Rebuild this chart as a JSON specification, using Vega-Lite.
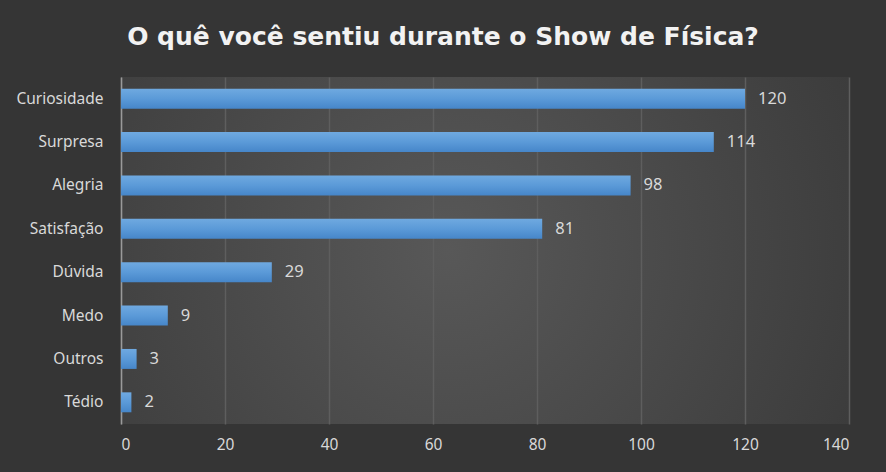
{
  "$schema": "https://vega.github.io/schema/vega-lite/v6.json",
  "width": 728,
  "height": 347,
  "autosize": {"type": "none"},
  "padding": {"left": 121, "top": 77, "right": 37, "bottom": 48},
  "background": "#353535",
  "title": {
    "text": "O quê você sentiu durante o Show de Física?",
    "font": "DejaVu Sans",
    "fontSize": 25,
    "fontWeight": "bold",
    "color": "#f2f2f2",
    "anchor": "middle",
    "dx": -42,
    "offset": 27
  },
  "data": {
    "values": [
      {"sentimento": "Curiosidade", "respostas": 120},
      {"sentimento": "Surpresa", "respostas": 114},
      {"sentimento": "Alegria", "respostas": 98},
      {"sentimento": "Satisfação", "respostas": 81},
      {"sentimento": "Dúvida", "respostas": 29},
      {"sentimento": "Medo", "respostas": 9},
      {"sentimento": "Outros", "respostas": 3},
      {"sentimento": "Tédio", "respostas": 2}
    ]
  },
  "encoding": {
    "y": {
      "field": "sentimento",
      "type": "nominal",
      "sort": null,
      "title": null,
      "scale": {"paddingInner": 0.54, "paddingOuter": 0.27},
      "axis": {
        "ticks": false,
        "domain": true,
        "domainColor": "#9a9a9a",
        "domainWidth": 1.5,
        "labelPadding": 18,
        "labelFont": "Noto Sans",
        "labelFontSize": 15.5,
        "labelColor": "#d9d9d9",
        "grid": false
      }
    },
    "x": {
      "field": "respostas",
      "type": "quantitative",
      "title": null,
      "scale": {"domain": [0, 140], "nice": false},
      "axis": {
        "values": [0, 20, 40, 60, 80, 100, 120, 140],
        "ticks": false,
        "domain": false,
        "grid": true,
        "gridColor": "#5e5e5e",
        "gridWidth": 1.5,
        "labelPadding": 13,
        "labelFont": "Noto Sans",
        "labelFontSize": 15.5,
        "labelColor": "#d9d9d9"
      }
    }
  },
  "layer": [
    {
      "mark": {
        "type": "bar",
        "fill": {
          "gradient": "linear",
          "x1": 0, "y1": 0, "x2": 0, "y2": 1,
          "stops": [
            {"offset": 0, "color": "#6fa9e0"},
            {"offset": 0.5, "color": "#5b9ad8"},
            {"offset": 1, "color": "#4686c9"}
          ]
        }
      }
    },
    {
      "mark": {
        "type": "text",
        "align": "left",
        "baseline": "middle",
        "dx": 13,
        "font": "Noto Sans",
        "fontSize": 16.5,
        "color": "#d9d9d9"
      },
      "encoding": {"text": {"field": "respostas", "type": "quantitative"}}
    }
  ],
  "config": {
    "view": {
      "stroke": null,
      "fill": {
        "gradient": "radial",
        "x1": 0.45, "y1": 0.5, "r1": 0,
        "x2": 0.45, "y2": 0.5, "r2": 0.75,
        "stops": [
          {"offset": 0, "color": "#585858"},
          {"offset": 1, "color": "#353535"}
        ]
      }
    }
  }
}
